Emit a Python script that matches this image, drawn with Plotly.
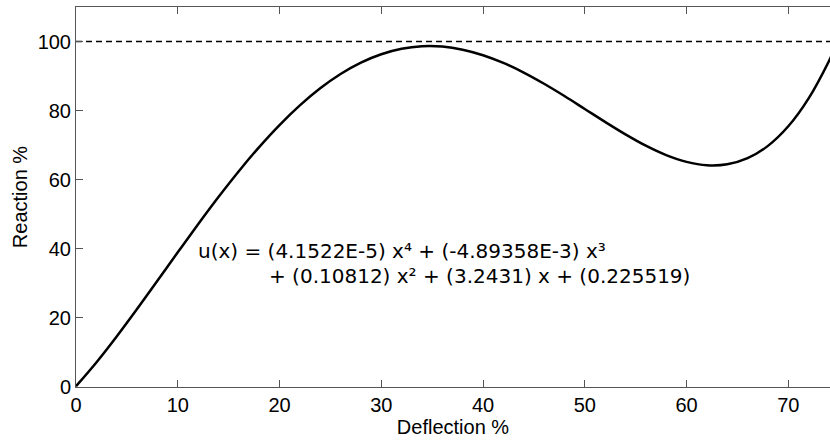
import plotly.graph_objects as go

# Values (Deflection %, Reaction %)
deflection = [0, 2, 4, 6, 8, 10, 12, 14, 16, 18, 20, 22, 24, 26, 28, 30, 32, 34, 36,
              38, 40, 42, 44, 46, 48, 50, 52, 54, 56, 58, 60, 62, 64, 66, 68, 70, 72, 74, 75]
reaction = [0.23, 7.11, 14.63, 22.57, 30.76, 38.99, 47.12, 54.99, 62.47, 69.45, 75.83,
            81.52, 86.46, 90.60, 93.90, 96.33, 97.91, 98.63, 98.53, 97.65, 96.05, 93.81,
            91.02, 87.78, 84.23, 80.49, 76.74, 73.14, 69.86, 67.13, 65.16, 64.17, 64.45,
            66.23, 69.80, 75.47, 83.56, 94.38, 100.93]
ref_level = [100, 100]
ref_x = [0, 75]

x_ticks = [0, 10, 20, 30, 40, 50, 60, 70]
y_ticks = [0, 20, 40, 60, 80, 100]

eq_line1 = "u(x) = (4.1522E-5) x⁴ + (-4.89358E-3) x³"
eq_line2 = "+ (0.10812) x² + (3.2431) x + (0.225519)"

fig = go.Figure()
fig.add_trace(go.Scatter(x=ref_x, y=ref_level, mode="lines",
                         line=dict(color="black", width=1.5, dash="6px,4px"),
                         hoverinfo="skip", showlegend=False))
fig.add_trace(go.Scatter(x=deflection, y=reaction, mode="lines",
                         line=dict(color="black", width=2.5, shape="spline"),
                         showlegend=False))

axis_font = dict(family="Liberation Sans, Arial, sans-serif", size=20, color="black")
eq_font = dict(family="DejaVu Sans", size=20, color="black")
fig.update_layout(
    width=830, height=444,
    margin=dict(l=76, r=0, t=7, b=57),
    paper_bgcolor="white", plot_bgcolor="white",
    font=axis_font,
    xaxis=dict(range=[0, 74.1], tickvals=x_ticks, ticks="inside", ticklen=7,
               tickcolor="#555", showline=True, linecolor="#555", linewidth=1,
               mirror="ticks", showgrid=False, zeroline=False,
               tickfont=axis_font,
               title=dict(text="Deflection %", font=axis_font, standoff=0)),
    yaxis=dict(range=[0, 110], tickvals=y_ticks, ticks="inside", ticklen=7,
               tickcolor="#555", showline=True, linecolor="#555", linewidth=1,
               mirror=False, showgrid=False, zeroline=False,
               tickfont=axis_font,
               title=dict(text="Reaction %", font=axis_font, standoff=4)),
    annotations=[
        dict(x=11.79, y=39.45, xref="x", yref="y", text=eq_line1, showarrow=False,
             xanchor="left", yanchor="middle", font=eq_font),
        dict(x=18.77, y=32.2, xref="x", yref="y", text=eq_line2, showarrow=False,
             xanchor="left", yanchor="middle", font=eq_font),
    ],
)

fig.write_html("out.html")
